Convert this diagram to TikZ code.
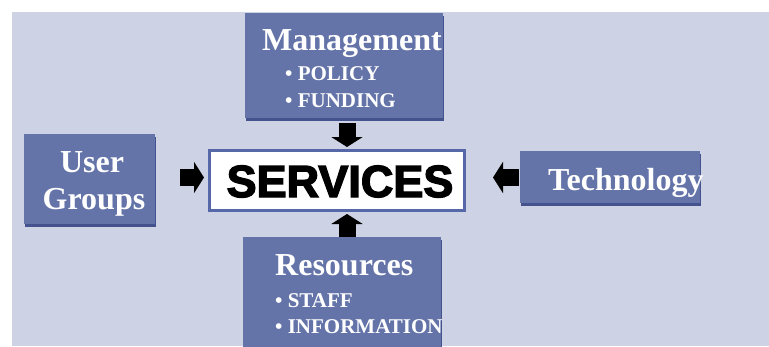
\documentclass[tikz,border=0pt]{standalone}
\usepackage{fontspec}
\setmainfont{Liberation Serif}
\newfontfamily\svcfont[FakeBold=3]{Liberation Sans Bold}
\usetikzlibrary{arrows.meta,shadows}
\definecolor{bgblue}{HTML}{CDD3E4}
\definecolor{boxblue}{HTML}{6474A9}
\definecolor{boxdark}{HTML}{44528E}
\definecolor{svcborder}{HTML}{5768A8}
\tikzset{
  box/.style={draw=none, fill=boxblue, inner sep=0pt, outer sep=0pt,
    drop shadow={shadow xshift=1pt, shadow yshift=-2.5pt, fill=boxdark, opacity=1}},
  title/.style={anchor=base west, inner sep=0pt, text=white,
    font=\bfseries\fontsize{32}{36}\selectfont},
  bullet/.style={anchor=base west, inner sep=0pt, text=white,
    font=\bfseries\fontsize{21}{24}\selectfont},
  blockarrow/.style={draw=black, line width=17pt, -{Triangle[width=31pt,length=10pt]}},
}
\begin{document}
\begin{tikzpicture}[x=1pt,y=-1pt]
  \useasboundingbox (0,0) rectangle (769,346);
  \fill[white] (0,0) rectangle (769,346);
  \fill[bgblue] (12,12) rectangle (769,346);

  % boxes
  \node[box, minimum width=198pt, minimum height=105pt] (mgmt) at (344,65.5) {};
  \node[box, minimum width=131pt, minimum height=90pt] (user) at (89.5,179) {};
  \node[box, minimum width=180pt, minimum height=52pt] (tech) at (610,177) {};
  \node[box, minimum width=198pt, minimum height=113pt] (res) at (342,293.5) {};
  \node[draw=svcborder, line width=3pt, fill=white, minimum width=255pt,
        minimum height=60pt, inner sep=0pt] (services) at (337,180.5) {};

  % texts
  \node[title] (mgmttitle) at (262,50) {Management};
  \node[bullet] (policy) at (285,80) {• POLICY};
  \node[bullet] (funding) at (285,107) {• FUNDING};
  \node[title, anchor=base] (usertitle) at (92,172) {User};
  \node[title, anchor=base] (groupstitle) at (94,209) {Groups};
  \node[title] (techtitle) at (548,190) {Technology};
  \node[title] (restitle) at (275,275) {Resources};
  \node[bullet] (staff) at (275,307) {• STAFF};
  \node[bullet] (info) at (275,333) {• INFORMATION};
  \node[anchor=base, inner sep=0pt, font=\svcfont\fontsize{45}{45}\selectfont]
    (svctext) at (340,197) {SERVICES};

  % arrows
  \coordinate (ax) at (347,0);
  \coordinate (ay) at (0,177.5);
  \draw[blockarrow, shorten <=5pt, shorten >=2pt] (mgmt.south -| ax) -- (services.north -| ax);
  \draw[blockarrow, shorten >=2pt] (res.north -| ax) -- (services.south -| ax);
  \draw[blockarrow, shorten <=25pt, shorten >=4pt] (user.east |- ay) -- (services.west |- ay);
  \draw[blockarrow, shorten <=1pt, shorten >=27pt] (tech.west |- ay) -- (services.east |- ay);
\end{tikzpicture}
\end{document}
